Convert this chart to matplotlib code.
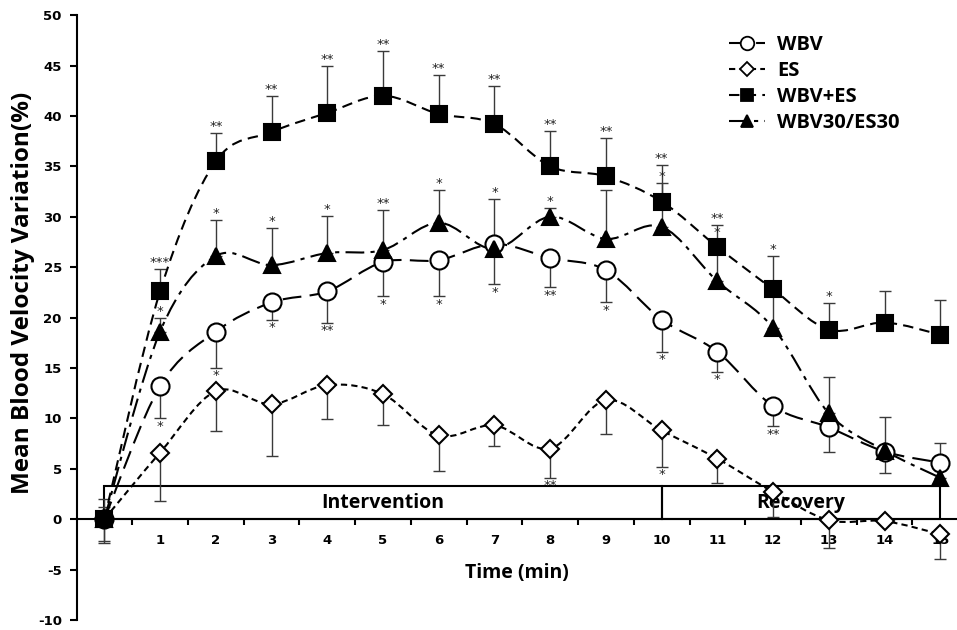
import numpy as np
import matplotlib
matplotlib.use("Agg")
import matplotlib.pyplot as plt
from matplotlib.path import Path
from matplotlib.patches import PathPatch, Rectangle
from matplotlib.lines import Line2D

plt.rcParams["axes.unicode_minus"] = False

# data (minutes 0..15)
minutes = list(range(16))
tick_labels = [str(m) for m in range(1, 16)]

wbv = [0, 13.2, 18.6, 21.5, 22.6, 25.5, 25.7, 27.3, 25.9, 24.7, 19.8, 16.6, 11.2, 9.1, 6.7, 5.6]
wbv_low = [-2.4, 10.0, 15.0, 19.8, 19.5, 22.1, 22.1, 23.3, 23.0, 21.5, 16.6, 14.6, 9.2, 6.7, 4.6, 5.0]
wbv_sig = ["", "*", "*", "*", "**", "*", "*", "*", "**", "*", "*", "*", "**", "", "", ""]

es = [0, 6.6, 12.7, 11.4, 13.3, 12.4, 8.3, 9.3, 7.0, 11.8, 8.8, 6.0, 2.7, -0.1, -0.2, -1.5]
es_low = [-2.2, 1.8, 8.7, 6.3, 9.9, 9.3, 4.8, 7.3, 4.1, 8.4, 5.2, 3.6, 0.2, -2.9, -0.2, -4.0]
es_sig = ["", "", "", "", "", "", "", "", "**", "", "*", "", "", "", "", ""]

wbv_es = [0, 22.6, 35.5, 38.4, 40.3, 42.0, 40.2, 39.2, 35.0, 34.0, 31.5, 27.0, 22.8, 18.8, 19.5, 18.3]
wbv_es_up = [2.0, 24.8, 38.3, 42.0, 45.0, 46.4, 44.1, 43.0, 38.5, 37.8, 35.1, 29.2, 26.1, 21.4, 22.6, 21.7]
wbv_es_sig = ["", "***", "**", "**", "**", "**", "**", "**", "**", "**", "**", "**", "*", "*", "", ""]

wbv30 = [0, 18.6, 26.1, 25.2, 26.4, 26.7, 29.4, 26.8, 30.0, 27.8, 29.0, 23.6, 19.0, 10.5, 6.8, 4.1]
wbv30_up = [1.2, 20.0, 29.7, 28.9, 30.1, 30.7, 32.7, 31.8, 30.9, 32.7, 33.3, 27.8, 22.5, 14.1, 10.1, 7.6]
wbv30_sig = ["", "*", "*", "*", "*", "**", "*", "*", "*", "*", "*", "*", "", "", "", ""]

FONT = "Open Sans"


def smooth_path(x, y):
    # Excel style smoothed line: Catmull-Rom segments as cubic beziers
    pts = np.column_stack([x, y]).astype(float)
    n = len(pts)
    verts = [pts[0]]
    codes = [Path.MOVETO]
    for i in range(n - 1):
        p0 = pts[max(i - 1, 0)]
        p1 = pts[i]
        p2 = pts[i + 1]
        p3 = pts[min(i + 2, n - 1)]
        verts += [p1 + (p2 - p0) / 6, p2 - (p3 - p1) / 6, p2]
        codes += [Path.CURVE4] * 3
    return Path(verts, codes)


fig = plt.figure(figsize=(9.57, 6.3), dpi=100)
ax = fig.add_axes([0.0805, 0.016, 0.9195, 0.96])
ax.set_xlim(-0.49, 15.3)
ax.set_ylim(-10, 50)

series = [
    # values, err low, err high, sig, sig below?, marker, ms, face, dashes
    (wbv, wbv_low, wbv, wbv_sig, True, "o", 13, "white", (0, (9, 4))),
    (es, es_low, es, es_sig, True, "D", 9, "white", (0, (3, 2))),
    (wbv_es, wbv_es, wbv_es_up, wbv_es_sig, False, "s", 12, "black", (0, (5, 3))),
    (wbv30, wbv30, wbv30_up, wbv30_sig, False, "^", 12, "black", (0, (9, 3, 2, 3))),
]
names = ["WBV", "ES", "WBV+ES", "WBV30/ES30"]

handles = []
for (vals, lo, hi, sig, below, mk, ms, fc, dash), name in zip(series, names):
    vals = np.array(vals)
    lo = np.array(lo)
    hi = np.array(hi)
    ax.add_patch(PathPatch(smooth_path(minutes, vals), fill=False, ec="black",
                           lw=1.5, ls=dash, zorder=3))
    ax.errorbar(minutes, vals, yerr=[vals - lo, hi - vals], fmt="none",
                ecolor="#3a3a3a", elinewidth=1, capsize=4, capthick=1, zorder=2)
    ax.plot(minutes, vals, ls="none", marker=mk, ms=ms, mfc=fc, mec="black",
            mew=1.5, zorder=4)
    for m, s in zip(minutes, sig):
        if not s:
            continue
        if below:
            ax.annotate(s, (m, lo[m]), xytext=(0, -1), textcoords="offset points",
                        ha="center", va="top", fontsize=9.5, color="#222222")
        else:
            ax.annotate(s, (m, hi[m]), xytext=(0, 0), textcoords="offset points",
                        ha="center", va="bottom", fontsize=9.5, color="#222222")
    handles.append(Line2D([], [], color="black", lw=1.5, ls=dash, marker=mk,
                          ms=ms * 0.75, mfc=fc, mec="black", mew=1.3))

# intervention / recovery boxes
ax.add_patch(Rectangle((0, 0), 10, 3.3, fill=False, ec="black", lw=1.5, zorder=1))
ax.add_patch(Rectangle((10, 0), 5, 3.3, fill=False, ec="black", lw=1.5, zorder=1))
ax.text(5, 1.6, "Intervention", ha="center", va="center", fontsize=14,
        fontweight="bold", family=FONT, zorder=1)
ax.text(12.5, 1.6, "Recovery", ha="center", va="center", fontsize=14,
        fontweight="bold", family=FONT, zorder=1)

# axes styling
for side in ["top", "right"]:
    ax.spines[side].set_visible(False)
ax.spines["bottom"].set_position(("data", 0))
ax.spines["bottom"].set_linewidth(1.5)
ax.spines["left"].set_linewidth(1.5)

ax.set_xticks(np.arange(0.5, 15, 1))
ax.set_xticklabels([])
ax.set_xticks(range(1, 16), minor=True)
ax.set_xticklabels(tick_labels, minor=True)
ax.tick_params(axis="x", which="major", direction="out", length=4, width=1.5)
ax.tick_params(axis="x", which="minor", length=0, pad=11, labelsize=9.5)
for t in ax.get_xticklabels(minor=True):
    t.set_fontweight("bold")

ax.set_yticks(range(-10, 51, 5))
ax.tick_params(axis="y", direction="out", length=5, width=1.5, labelsize=9.5, pad=6)
for t in ax.get_yticklabels():
    t.set_fontweight("bold")

fig.text(0.54, 0.09, "Time (min)", ha="center", va="center", fontsize=14,
         fontweight="bold", family=FONT)
fig.text(0.024, 0.535, "Mean Blood Velocity Variation(%)", ha="center", va="center",
         rotation=90, fontsize=17.5, fontweight="bold", family=FONT)

ax.legend(handles, names, loc="upper left", bbox_to_anchor=(0.72, 0.997),
          frameon=False, handlelength=1.8, handletextpad=0.6, labelspacing=0.3,
          prop={"family": FONT, "weight": "bold", "size": 14.5})

fig.savefig("out.png", dpi=100)
